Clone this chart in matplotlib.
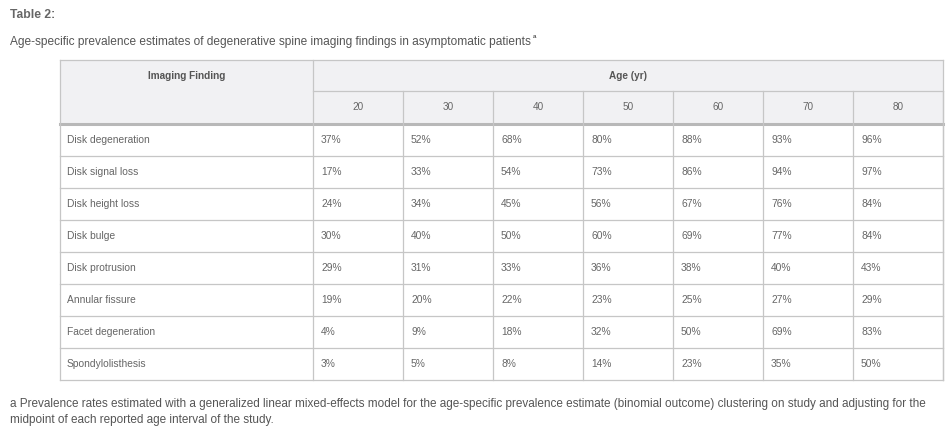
import matplotlib.pyplot as plt

findings = ['Disk degeneration', 'Disk signal loss', 'Disk height loss', 'Disk bulge',
            'Disk protrusion', 'Annular fissure', 'Facet degeneration', 'Spondylolisthesis']
ages = [20, 30, 40, 50, 60, 70, 80]
disk_degeneration = [37, 52, 68, 80, 88, 93, 96]
disk_signal_loss = [17, 33, 54, 73, 86, 94, 97]
disk_height_loss = [24, 34, 45, 56, 67, 76, 84]
disk_bulge = [30, 40, 50, 60, 69, 77, 84]
disk_protrusion = [29, 31, 33, 36, 38, 40, 43]
annular_fissure = [19, 20, 22, 23, 25, 27, 29]
facet_degeneration = [4, 9, 18, 32, 50, 69, 83]
spondylolisthesis = [3, 5, 8, 14, 23, 35, 50]

rows = [disk_degeneration, disk_signal_loss, disk_height_loss, disk_bulge,
        disk_protrusion, annular_fissure, facet_degeneration, spondylolisthesis]

title = 'Age-specific prevalence estimates of degenerative spine imaging findings in asymptomatic patients'
note = ('a Prevalence rates estimated with a generalized linear mixed-effects model for the age-specific '
        'prevalence estimate (binomial outcome) clustering on study and adjusting for the')
note2 = 'midpoint of each reported age interval of the study.'

plt.rcParams['font.family'] = ['Liberation Sans', 'DejaVu Sans']

W, H = 947, 434
fig = plt.figure(figsize=(W / 100, H / 100), dpi=100)
ax = fig.add_axes([0, 0, 1, 1])
ax.set_xlim(0, W)
ax.set_ylim(H, 0)
ax.axis('off')

txt = '#555555'
cell_txt = '#666666'
line = '#c6c6c6'
head_bg = '#f1f1f3'

left, first_w, col_w = 60, 253, 90
top, head1, head2, row_h = 60, 31, 33, 32
right = left + first_w + col_w * len(ages)
head_bottom = top + head1 + head2
bottom = head_bottom + row_h * len(rows)

ax.text(10, 15, 'Table 2:', fontsize=8.7, fontweight='bold', color='#666666', va='center')
t = ax.text(10, 42, title, fontsize=8.6, color=txt, va='center')
ax.annotate('a', xy=(1, 1), xycoords=t, xytext=(1.5, 0), textcoords='offset points',
            fontsize=4.5, fontweight='bold', color=txt, ha='left', va='center')

# header background
ax.add_patch(plt.Rectangle((left, top), right - left, head1 + head2, color=head_bg, lw=0))

# grid
ax.plot([left, right], [top, top], color=line, lw=0.9)
ax.plot([left + first_w, right], [top + head1, top + head1], color=line, lw=0.9)
ax.plot([left, right], [head_bottom, head_bottom], color='#b8b8b8', lw=2.2)
for i in range(1, len(rows) + 1):
    y = head_bottom + row_h * i
    ax.plot([left, right], [y, y], color=line, lw=0.9)
ax.plot([left, left], [top, bottom], color=line, lw=0.9)
ax.plot([left + first_w, left + first_w], [top, bottom], color=line, lw=0.9)
for j in range(1, len(ages) + 1):
    x = left + first_w + col_w * j
    ax.plot([x, x], [top + head1, bottom], color=line, lw=0.9)
ax.plot([right, right], [top, bottom], color=line, lw=0.9)

# header text
ax.text(left + first_w / 2, top + 16, 'Imaging Finding', fontsize=7.2, fontweight='bold',
        color='#555555', ha='center', va='center')
ax.text(left + first_w + col_w * len(ages) / 2, top + 16, 'Age (yr)', fontsize=7.2,
        fontweight='bold', color='#555555', ha='center', va='center')
for j, a in enumerate(ages):
    ax.text(left + first_w + col_w * (j + 0.5), top + head1 + head2 / 2, str(a),
            fontsize=7.2, color=cell_txt, ha='center', va='center')

# body
for i, (name, vals) in enumerate(zip(findings, rows)):
    y = head_bottom + row_h * (i + 0.5)
    ax.text(left + 7, y, name, fontsize=7.4, color=cell_txt, va='center')
    for j, v in enumerate(vals):
        ax.text(left + first_w + col_w * j + 8, y, f'{v}%', fontsize=7.4, color=cell_txt, va='center')

ax.text(10, 404, note, fontsize=8.5, color=txt, va='center')
ax.text(10, 420, note2, fontsize=8.5, color=txt, va='center')

fig.savefig('out.png', dpi=100, facecolor='white')
